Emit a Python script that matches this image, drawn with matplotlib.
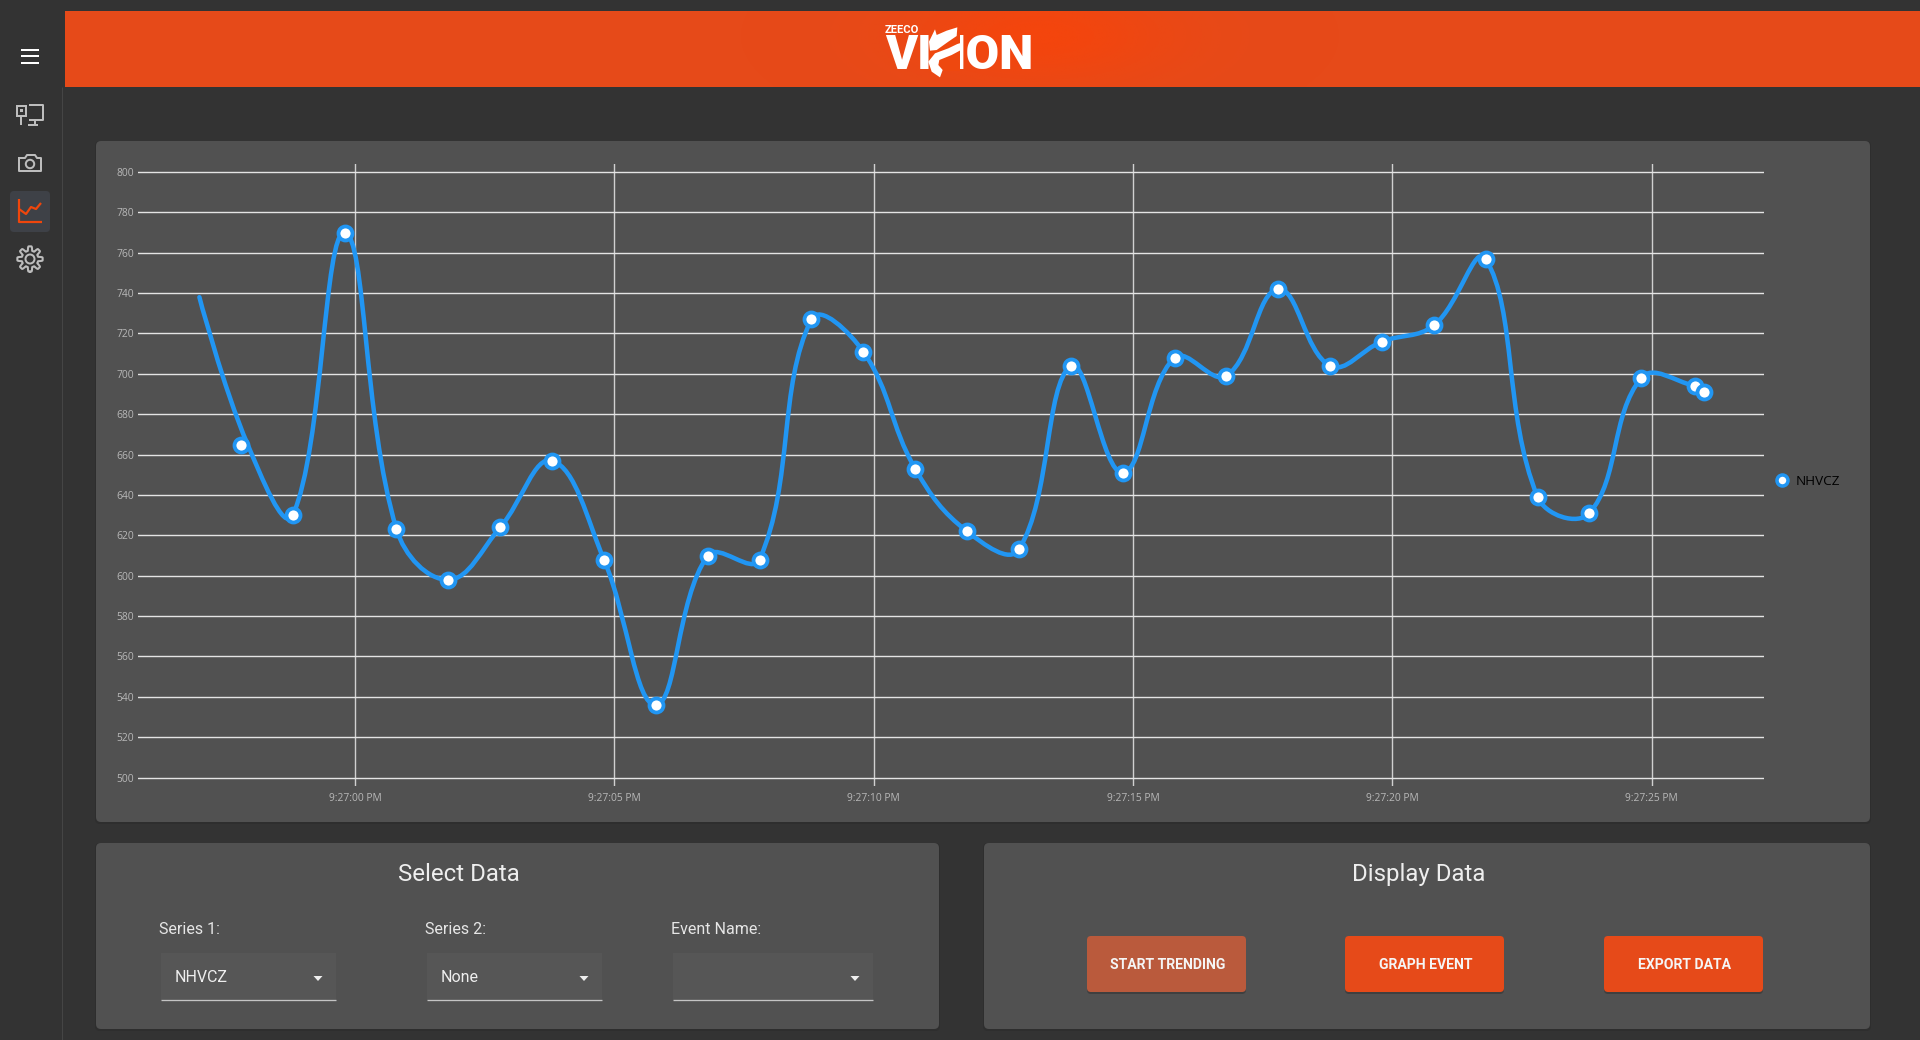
import numpy as np
import matplotlib
matplotlib.use("Agg")
import matplotlib.pyplot as plt
from matplotlib.path import Path
from matplotlib.patches import PathPatch, FancyBboxPatch, Rectangle, Circle, Polygon
from matplotlib.lines import Line2D

plt.rcParams['font.family'] = ['Roboto', 'DejaVu Sans']

# ---- data ----
series_name = "NHVCZ"
# marker positions (seconds after 9:27:00 PM)
marker_seconds = [-2.2, -1.2, -0.2, 0.8, 1.8, 2.8, 3.8, 4.8, 5.8, 6.8, 7.8, 8.8, 9.8, 10.8,
                  11.8, 12.8, 13.8, 14.8, 15.8, 16.8, 17.8, 18.8, 19.8, 20.8, 21.8, 22.8, 23.8,
                  24.8, 25.83, 26.0]
marker_values = [665, 630, 770, 623, 598, 624, 657, 608, 536, 610, 608, 727, 711, 653,
                 622, 613, 704, 651, 708, 699, 742, 704, 716, 724, 757, 639, 631, 698, 694, 691]
# the drawn line starts earlier and runs slightly right of the first marker
line_seconds = [-3.0, -2.07, -1.2, -0.2, 0.8, 1.8, 2.8, 3.8, 4.8, 5.8, 6.8, 7.8, 8.8, 9.8, 10.8,
                11.8, 12.8, 13.8, 14.8, 15.8, 16.8, 17.8, 18.8, 19.8, 20.8, 21.8, 22.8, 23.8,
                24.8, 25.83, 26.0]
line_values = [738, 665, 630, 770, 623, 598, 624, 657, 608, 536, 610, 608, 727, 711, 653,
               622, 613, 704, 651, 708, 699, 742, 704, 716, 724, 757, 639, 631, 698, 694, 691]
time_ticks = [0, 5, 10, 15, 20, 25]
time_labels = ["9:27:00 PM", "9:27:05 PM", "9:27:10 PM", "9:27:15 PM", "9:27:20 PM", "9:27:25 PM"]
value_ticks = list(range(500, 801, 20))
select_labels = ["Series 1:", "Series 2:", "Event Name:"]
select_values = ["NHVCZ", "None", ""]
button_labels = ["START TRENDING", "GRAPH EVENT", "EXPORT DATA"]

W, H = 1920, 1040
BG = "#333333"
PANEL = "#515151"
ORANGE = "#E64A19"
BLUE = "#2196F3"
ICON = "#BDBDBD"

fig = plt.figure(figsize=(W / 100, H / 100), dpi=100, facecolor=BG)
ui = fig.add_axes([0, 0, 1, 1], zorder=0)
ui.set_xlim(0, W)
ui.set_ylim(H, 0)
ui.axis("off")


def lw(px):
    return px * 0.72


def box(x0, y0, x1, y1, color, r=5, z=1, **kw):
    p = FancyBboxPatch((x0 + r, y0 + r), x1 - x0 - 2 * r, y1 - y0 - 2 * r,
                       boxstyle=f"round,pad={r},rounding_size={r}", fc=color, ec="none", zorder=z, **kw)
    ui.add_patch(p)
    return p


def line(xs, ys, color=ICON, w=2.0, z=5):
    ui.add_line(Line2D(xs, ys, color=color, lw=lw(w), zorder=z, solid_capstyle="butt"))


def rect(x0, y0, x1, y1, ec=ICON, w=2.0, z=5):
    ui.add_patch(Rectangle((x0, y0), x1 - x0, y1 - y0, fc="none", ec=ec, lw=lw(w), zorder=z))


# ---- header and its glow ----
ui.add_patch(Rectangle((65, 11), W - 65, 76, fc=ORANGE, ec="none", zorder=1))
gx, gy = np.meshgrid(np.linspace(65, W, 500), np.linspace(11, 87, 20))
glow = 0.8 * np.exp(-((gx - 1040) / 130) ** 2 - ((gy - 35) / 50) ** 2)
rgba = np.zeros(gx.shape + (4,))
rgba[..., :3] = matplotlib.colors.to_rgb("#F8440A")
rgba[..., 3] = glow
ui.imshow(rgba, extent=(65, W, 87, 11), aspect="auto", zorder=1.5, interpolation="bilinear")
ui.set_xlim(0, W)
ui.set_ylim(H, 0)

# logo
ui.text(885, 33, "ZEECO", color="white", fontsize=8, fontweight="bold", ha="left", va="baseline", zorder=6)
ui.text(885.5, 69, "VI", color="white", fontsize=35, fontweight="black", ha="left", va="baseline", zorder=6)
ui.text(1034, 69, "ION", color="white", fontsize=35, fontweight="black", ha="right", va="baseline", zorder=6)
flame_top = [(232, 22), (230, 48), (205, 65), (170, 90), (150, 92), (147, 65), (165, 28), (170, 45), (200, 32)]
flame_low = [(245, 68), (243, 90), (215, 105), (178, 120), (175, 135), (188, 150), (180, 172),
             (155, 155), (145, 125), (165, 100), (205, 85), (232, 72)]
ui.add_patch(Rectangle((929, 30), 31, 41, fc="#EE480F", ec="none", zorder=6.5))
for shape in (flame_top, flame_low):
    ui.add_patch(Polygon([(880 + a / 3, 20 + b / 3) for a, b in shape], closed=True, fc="white", ec="none", zorder=7))

# ---- sidebar ----
line([61.5, 61.5], [87, H], color="#454545", w=1, z=1)
for y in (49.5, 56, 62.5):
    line([21, 39], [y, y], color="white", w=2)
# devices icon
rect(17, 105.5, 26, 115.5)
line([21, 21], [115.5, 125])
line([29, 43, 43, 29], [105, 105, 120, 120])
line([35, 35], [120, 125])
line([28, 38], [125, 125])
ui.add_patch(Rectangle((20, 109), 3, 3, fc=ICON, ec="none", zorder=5))
# camera icon
ui.add_line(Line2D([19, 25, 27, 35, 37, 41, 41, 19, 19], [158, 158, 155, 155, 158, 158, 171, 171, 158],
                   color=ICON, lw=lw(2), zorder=5))
ui.add_patch(Circle((30, 164), 4.2, fc="none", ec=ICON, lw=lw(2), zorder=5))
# selected trend icon
box(10, 191, 50, 232, "#3E4147", r=4, z=2)
line([19, 19, 42], [199, 222, 222], color="#F0460C", w=2.2)
line([19, 26, 31, 36, 41], [209, 214, 207, 209, 203], color="#F0460C", w=2.2)
# gear icon
angle = np.linspace(0, 2 * np.pi, 161)
radius = 10.5 + 2.2 * np.clip(2.2 * np.cos(8 * angle), -1, 1)
ui.plot(30 + radius * np.sin(angle), 259 + radius * np.cos(angle), color=ICON, lw=lw(2), zorder=5)
ui.add_patch(Circle((30, 259), 4.5, fc="none", ec=ICON, lw=lw(2), zorder=5))

# ---- panels ----
for x0, y0, x1, y1 in [(96, 141, 1870, 822), (96, 843, 939, 1029), (984, 843, 1870, 1029)]:
    box(x0 - 1, y0, x1 + 1, y1 + 2, "#2E2E2E", r=5, z=0.8)
    box(x0, y0, x1, y1, PANEL, r=5, z=1)

ui.text(459, 881, "Select Data", color="#EEEEEE", fontsize=17.3, ha="center", va="baseline", zorder=5)
ui.text(1418.5, 881, "Display Data", color="#EEEEEE", fontsize=17.3, ha="center", va="baseline", zorder=5)

# dropdowns
sel_label_x = [159, 425, 671]
sel_box = [(160.5, 336), (426.5, 602), (672.5, 873)]
sel_text_x = [175, 441, 687]
sel_arrow_x = [318, 584, 855]
for lab, val, lx, (bx0, bx1), tx, ax_ in zip(select_labels, select_values, sel_label_x, sel_box, sel_text_x, sel_arrow_x):
    ui.text(lx, 929, lab, color="#E6E6E6", fontsize=11.5, ha="left", va="center", zorder=5)
    ui.add_patch(Rectangle((bx0, 953), bx1 - bx0, 47, fc="#565656", ec="none", zorder=2))
    line([bx0, bx1], [1000.3, 1000.3], color="#C4C4C4", w=1.3)
    if val:
        ui.text(tx, 977, val, color="#EEEEEE", fontsize=11.5, ha="left", va="center", zorder=5)
    ui.add_patch(Polygon([(ax_ - 4.5, 976), (ax_ + 4.5, 976), (ax_, 981)], closed=True, fc="#EEEEEE", ec="none", zorder=5))

# buttons
btn_x = [(1087, 1246), (1345, 1504), (1604, 1763)]
btn_col = ["#BA5A3C", ORANGE, ORANGE]
for lab, (x0, x1), c in zip(button_labels, btn_x, btn_col):
    box(x0, 937, x1, 994, "#3F3F3F", r=4, z=1.5)
    box(x0, 936, x1, 992, c, r=4, z=2)
    ui.text((x0 + x1) / 2 + 0.8, 965.2, lab, color="#F5F5F5", fontsize=10.1, fontweight="bold", ha="center", va="center", zorder=5)

# ---- chart ----
left, right = 137.7, 1763.7
top, bottom = 163.5, 786.0
y800, y500 = 172.0, 777.6
x0s, x25s = 355.0, 1651.7
px_per_s = (x25s - x0s) / 25
px_per_v = (y500 - y800) / 300

ax = fig.add_axes([left / W, 1 - bottom / H, (right - left) / W, (bottom - top) / H], zorder=3)
ax.patch.set_alpha(0)
ax.set_xlim((left - x0s) / px_per_s, (right - x0s) / px_per_s)
ax.set_ylim(500 - (bottom - y500) / px_per_v, 800 + (y800 - top) / px_per_v)
for s in ax.spines.values():
    s.set_visible(False)
ax.set_xticks(time_ticks, time_labels)
ax.set_yticks(value_ticks, [str(v) for v in value_ticks])
ax.tick_params(axis="both", length=0, labelsize=7.4, labelcolor="#B8B8B8")
ax.tick_params(axis="x", pad=5)
ax.tick_params(axis="y", pad=2.5)
for lab in ax.get_xticklabels() + ax.get_yticklabels():
    lab.set_fontfamily(["Open Sans", "DejaVu Sans"])
ax.grid(True, axis="y", color="#E4E4E4", lw=lw(1.4))
ax.grid(True, axis="x", color="#D0D0D0", lw=lw(1.4))
ax.set_axisbelow(True)

# bezier through the points; handles scale with the on-screen length of the neighbouring segments
t = np.array(line_seconds)
v = np.array(line_values, dtype=float)
n = len(t)
TENSION = 0.4
seg = np.hypot(np.diff(t) * px_per_s, np.diff(v) * px_per_v)
verts = [(t[0], v[0])]
codes = [Path.MOVETO]
out_h = np.zeros((n, 2))
in_h = np.zeros((n, 2))
for i in range(1, n - 1):
    d = np.array([t[i + 1] - t[i - 1], v[i + 1] - v[i - 1]])
    total = seg[i - 1] + seg[i]
    in_h[i] = -TENSION * seg[i - 1] / total * d
    out_h[i] = TENSION * seg[i] / total * d
for i in range(n - 1):
    verts += [(t[i] + out_h[i, 0], v[i] + out_h[i, 1]),
              (t[i + 1] + in_h[i + 1, 0], v[i + 1] + in_h[i + 1, 1]),
              (t[i + 1], v[i + 1])]
    codes += [Path.CURVE4] * 3
ax.add_patch(PathPatch(Path(verts, codes), fc="none", ec=BLUE, lw=lw(4.5), zorder=3, capstyle="round"))
ax.plot(marker_seconds, marker_values, ls="none", marker="o", ms=lw(14), mfc="white", mec=BLUE, mew=lw(3.8),
        zorder=4, clip_on=False)

handle = Line2D([], [], ls="none", marker="o", ms=lw(11), mfc="white", mec=BLUE, mew=lw(3.5))
leg = fig.legend([handle], [series_name], loc="center left", bbox_to_anchor=(1769 / W, 1 - 481.5 / H),
                 frameon=False, handletextpad=0.0, labelcolor="#000000", borderpad=0, borderaxespad=0,
                 prop={"family": ["Open Sans", "DejaVu Sans"], "size": 9.7})

fig.savefig("out.png", dpi=100, facecolor=fig.get_facecolor())
